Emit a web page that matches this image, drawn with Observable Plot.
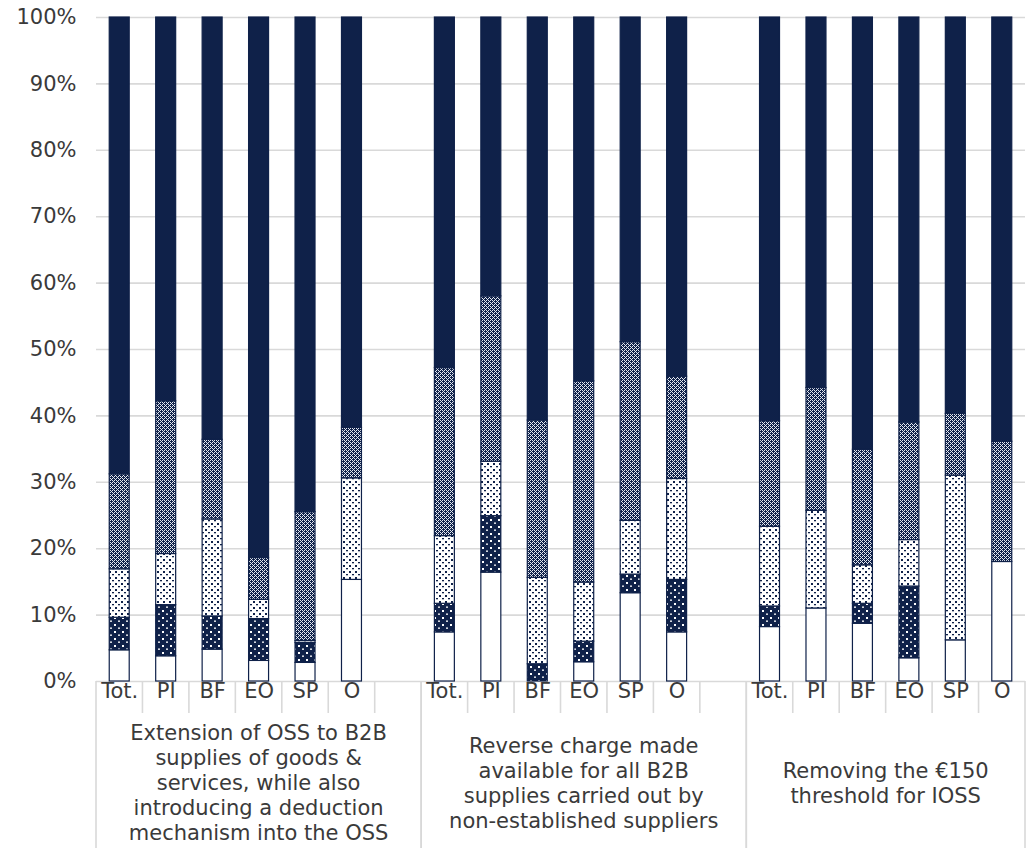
<!DOCTYPE html>
<html>
<head>
<meta charset="utf-8">
<script src="https://cdn.jsdelivr.net/npm/d3@7"></script>
<script src="https://cdn.jsdelivr.net/npm/@observablehq/plot@0.6"></script>
<style>
  html, body { margin: 0; padding: 0; background: #ffffff; }
  #chart { width: 1032px; height: 848px; }
</style>
</head>
<body>
<div id="chart"></div>
<script>
// ---------- data ----------
const groupLabels = [
  ["Extension of OSS to B2B", "supplies of goods &", "services, while also", "introducing a deduction", "mechanism into the OSS"],
  ["Reverse charge made", "available for all B2B", "supplies carried out by", "non-established suppliers"],
  ["Removing the €150", "threshold for IOSS"]
];
const categories = ["Tot.", "PI", "BF", "EO", "SP", "O"];
// series, bottom to top (18 values: 3 groups x 6 categories)
const seriesNames = ["Series 1", "Series 2", "Series 3", "Series 4", "Series 5"];
const series1 = [4.7, 3.8, 4.8, 3.1, 2.8, 15.3,   7.4, 16.4, 0.0, 2.9, 13.3, 7.4,   8.2, 11.0, 8.7, 3.5, 6.2, 18.0];
const series2 = [4.9, 7.7, 5.0, 6.3, 3.0, 0.0,    4.3, 8.5, 2.6, 3.1, 2.8, 7.9,     3.1, 0.0, 3.0, 10.8, 0.0, 0.0];
const series3 = [7.3, 7.7, 14.6, 2.9, 0.3, 15.3,  10.2, 8.2, 13.0, 8.9, 8.1, 15.2,  12.0, 14.7, 5.8, 7.0, 24.8, 0.0];
const series4 = [14.3, 23.0, 12.0, 6.3, 19.4, 7.6, 25.3, 24.9, 23.7, 30.3, 26.9, 15.4, 15.9, 18.5, 17.4, 17.7, 9.3, 18.1];
const series5 = [68.8, 57.8, 63.6, 81.4, 74.5, 61.8, 52.8, 42.0, 60.7, 54.8, 48.9, 54.1, 60.8, 55.8, 65.1, 61.0, 59.7, 63.9];
const seriesValues = [series1, series2, series3, series4, series5];
const yTicks = [0, 10, 20, 30, 40, 50, 60, 70, 80, 90, 100];

// ---------- build table ----------
const navy = "#0f2149";
const slots = [];
groupLabels.forEach((g, gi) => {
  categories.forEach(c => slots.push(`${gi}|${c}`));
  if (gi < groupLabels.length - 1) slots.push(`gap${gi}`);
});
const rows = [];
groupLabels.forEach((g, gi) => categories.forEach((c, ci) => {
  const idx = gi * categories.length + ci;
  seriesNames.forEach((s, si) => rows.push({slot: `${gi}|${c}`, series: s, value: seriesValues[si][idx]}));
}));
const catLabels = [];
groupLabels.forEach((g, gi) => categories.forEach(c => catLabels.push({slot: `${gi}|${c}`, label: c})));

const patterns = ["#ffffff", "url(#pDarkDots)", "url(#pLightDots)", "url(#pMesh)", navy];
const textColor = "#3a3a3a";
const lineColor = "#d9d9d9";
const font = "DejaVu Sans, Verdana, sans-serif";
const fs = 21;

const chart = Plot.plot({
  width: 1032,
  height: 848,
  marginLeft: 96,
  marginRight: 7,
  marginTop: 17,
  marginBottom: 167,
  style: {fontFamily: font, fontSize: fs + "px", color: textColor, background: "#ffffff"},
  x: {domain: slots, paddingInner: 0.57, paddingOuter: 0.285, round: false, axis: null},
  y: {domain: [0, 100], ticks: yTicks, label: null},
  color: {type: "ordinal", domain: seriesNames, range: patterns},
  marks: [
    Plot.gridY(yTicks, {stroke: lineColor, strokeOpacity: 1, strokeWidth: 1.6}),
    Plot.axisY(yTicks, {tickSize: 0, tickPadding: 20, tickFormat: d => d + "%", fontSize: fs, fill: textColor, label: null}),
    Plot.barY(rows, Plot.stackY({x: "slot", y: "value", fill: "series", stroke: navy, strokeWidth: 1.2, filter: d => d.value > 0})),
    Plot.text(catLabels, {x: "slot", text: "label", frameAnchor: "bottom", dy: 16, fontSize: fs, fill: textColor})
  ]
});

document.getElementById("chart").appendChild(chart);

// ---------- patterns ----------
const svg = d3.select(chart);
const defs = svg.insert("defs", ":first-child");
const pd = defs.append("pattern").attr("id", "pDarkDots").attr("width", 8).attr("height", 7).attr("patternUnits", "userSpaceOnUse");
pd.append("rect").attr("width", 8).attr("height", 7).attr("fill", navy);
pd.append("rect").attr("x", 2).attr("y", 1).attr("width", 2).attr("height", 2).attr("fill", "#ffffff");
pd.append("rect").attr("x", 6).attr("y", 4.5).attr("width", 2).attr("height", 1.3).attr("fill", "#ffffff");
const pl = defs.append("pattern").attr("id", "pLightDots").attr("width", 6).attr("height", 6).attr("patternUnits", "userSpaceOnUse");
pl.append("rect").attr("width", 6).attr("height", 6).attr("fill", "#ffffff");
pl.append("rect").attr("x", 1).attr("y", 1).attr("width", 2).attr("height", 2).attr("fill", navy);
pl.append("rect").attr("x", 4).attr("y", 4).attr("width", 2).attr("height", 1.3).attr("fill", navy);
const pm = defs.append("pattern").attr("id", "pMesh").attr("width", 4).attr("height", 4).attr("patternUnits", "userSpaceOnUse");
pm.append("rect").attr("width", 4).attr("height", 4).attr("fill", navy);
[[0,0],[2,0],[1,1],[0,2],[2,2],[3,3]].forEach(([x, y]) =>
  pm.append("rect").attr("x", x).attr("y", y).attr("width", 1).attr("height", 1).attr("fill", "#e4e8f0"));

// ---------- category table below the axis ----------
const xs = chart.scale("x");
const ys = chart.scale("y");
const step = xs.step, bw = xs.bandwidth;
const y0 = ys.apply(0);
const rowBottom = y0 + 32;
const H = 848;
const table = svg.append("g").attr("stroke", lineColor).attr("stroke-width", 1.6);
const groupBounds = [];
groupLabels.forEach((g, gi) => {
  const first = xs.apply(`${gi}|${categories[0]}`) + bw / 2 - step / 2;
  const lastSlot = gi < groupLabels.length - 1 ? `gap${gi}` : `${gi}|${categories[categories.length - 1]}`;
  const last = xs.apply(lastSlot) + bw / 2 + step / 2;
  groupBounds.push([first, last]);
  slots.filter(s => s.startsWith(`${gi}|`) || s === `gap${gi}`).forEach((s, i) => {
    if (i === 0) return;
    const xx = xs.apply(s) + bw / 2 - step / 2;
    table.append("line").attr("x1", xx).attr("x2", xx).attr("y1", y0).attr("y2", rowBottom);
  });
  [first, last].forEach(xx => table.append("line").attr("x1", xx).attr("x2", xx).attr("y1", y0).attr("y2", H));
});

const gl = svg.append("g").attr("fill", textColor).attr("font-size", fs).attr("font-family", font).attr("text-anchor", "middle");
groupLabels.forEach((lines, gi) => {
  const [a, b] = groupBounds[gi];
  const cx = (a + b) / 2;
  const cy = 783;
  const lh = 25;
  lines.forEach((t, i) => {
    gl.append("text").attr("x", cx).attr("y", cy + (i - (lines.length - 1) / 2) * lh).attr("dy", "0.35em").text(t);
  });
});
</script>
</body>
</html>
